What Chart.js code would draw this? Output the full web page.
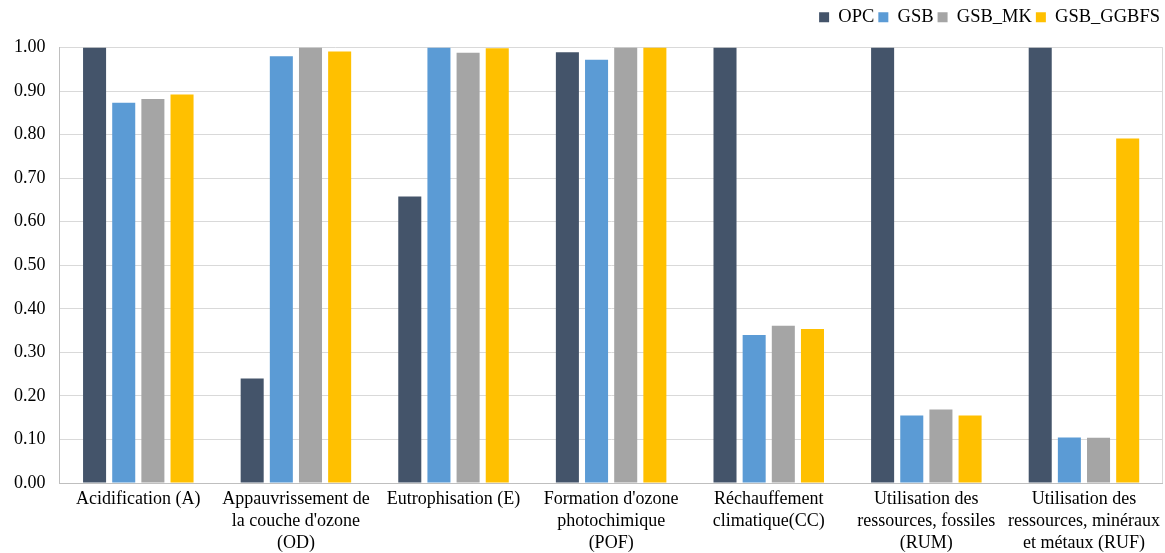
<!DOCTYPE html>
<html>
<head>
<meta charset="utf-8">
<script src="https://cdn.jsdelivr.net/npm/chart.js@4/dist/chart.umd.min.js"></script>
<style>
html,body{margin:0;padding:0;background:#fff;}
#wrap{width:1165px;height:553px;position:relative;}
</style>
</head>
<body>
<div id="wrap"><canvas id="c"></canvas></div>
<script>
const categories = [
  ["Acidification (A)"],
  ["Appauvrissement de", "la couche d'ozone", "(OD)"],
  ["Eutrophisation (E)"],
  ["Formation d'ozone", "photochimique", "(POF)"],
  ["Réchauffement", "climatique(CC)"],
  ["Utilisation des", "ressources, fossiles", "(RUM)"],
  ["Utilisation des", "ressources, minéraux", "et métaux (RUF)"]
];
const seriesNames = ["OPC", "GSB", "GSB_MK", "GSB_GGBFS"];
const OPC = [1.00, 0.24, 0.658, 0.989, 1.00, 1.00, 1.00];
const GSB = [0.873, 0.980, 1.00, 0.972, 0.340, 0.155, 0.105];
const GSB_MK = [0.882, 1.00, 0.988, 1.00, 0.361, 0.169, 0.104];
const GSB_GGBFS = [0.892, 0.991, 0.998, 1.00, 0.354, 0.155, 0.791];
const yTicks = [0, 0.1, 0.2, 0.3, 0.4, 0.5, 0.6, 0.7, 0.8, 0.9, 1.0];

const colors = ["#44546A", "#5B9BD5", "#A5A5A5", "#FFC000"];
const values = [OPC, GSB, GSB_MK, GSB_GGBFS];

const frame = {
  id: 'frame',
  beforeInit(chart) {
    const lg = chart.legend;
    if (lg) {
      const orig = lg.fit;
      lg.fit = function () { orig.call(this); this.height += 11; };
    }
  },
  afterDraw(chart) {
    const a = chart.chartArea, ctx = chart.ctx;
    ctx.save();
    ctx.strokeStyle = '#d9d9d9';
    ctx.lineWidth = 1;
    ctx.beginPath();
    ctx.moveTo(Math.round(a.right) - 0.5, a.top);
    ctx.lineTo(Math.round(a.right) - 0.5, a.bottom);
    ctx.stroke();
    ctx.restore();
  }
};

Chart.defaults.font.family = "'Liberation Serif', 'Times New Roman', serif";
Chart.defaults.font.size = 18;
Chart.defaults.color = '#000';

new Chart(document.getElementById('c'), {
  type: 'bar',
  data: {
    labels: categories,
    datasets: seriesNames.map((n, i) => ({
      label: n,
      data: values[i],
      backgroundColor: colors[i],
      borderWidth: 0,
      categoryPercentage: 0.74,
      barPercentage: 0.79
    }))
  },
  options: {
    responsive: true,
    maintainAspectRatio: false,
    animation: false,
    layout: { padding: { left: 0, right: 1, top: 4, bottom: 0 } },
    plugins: {
      legend: {
        position: 'top',
        align: 'end',
        labels: { boxWidth: 10, boxHeight: 10, padding: 4, font: { size: 18.5 } }
      },
      tooltip: { enabled: false }
    },
    scales: {
      x: {
        grid: { display: false, drawTicks: false },
        border: { color: '#bfbfbf' },
        ticks: { padding: 5, maxRotation: 0, autoSkip: false, font: { size: 18, lineHeight: 1.22 } },
        afterFit(axis) { axis.height -= 6; }
      },
      y: {
        min: 0, max: 1,
        afterBuildTicks(axis) { axis.ticks = yTicks.map(v => ({ value: v })); },
        grid: { color: '#d9d9d9', drawTicks: false },
        border: { color: '#bfbfbf' },
        ticks: { padding: 14, callback: v => Number(v).toFixed(2), font: { size: 18 } }
      }
    }
  },
  plugins: [frame]
});
</script>
</body>
</html>
